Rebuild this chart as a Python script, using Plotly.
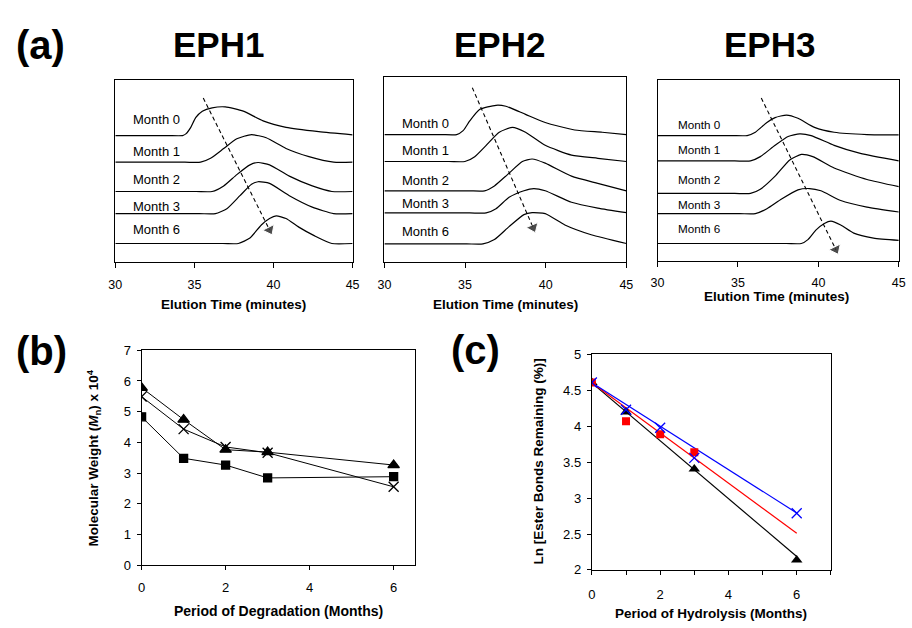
import math
import plotly.graph_objects as go

W, H = 912, 628
FONT = "Liberation Sans, Arial, sans-serif"

# ---------------- (a) GPC chromatograms (signal in arbitrary units) ----------------
months = ["Month 0", "Month 1", "Month 2", "Month 3", "Month 6"]
panel_titles = ["EPH1", "EPH2", "EPH3"]

eph1_time = [
    [30, 33.3, 34.25, 34.46, 34.77, 35.08, 35.50, 36.12, 36.95, 38.09, 39.34, 40.79, 42.86, 45],
    [30, 34.4, 35.39, 36.02, 36.85, 37.68, 38.61, 39.54, 40.79, 42.24, 43.80, 45],
    [30, 35.1, 36.12, 36.85, 37.68, 38.51, 39.02, 39.75, 41.00, 42.45, 43.69, 45],
    [30, 35.3, 36.33, 37.05, 37.88, 38.61, 39.02, 39.75, 41.00, 42.45, 43.80, 45],
    [30, 36.8, 37.78, 38.51, 39.23, 39.75, 40.17, 40.79, 41.60, 42.60, 43.69, 45],
]
eph1_signal = [
    [129.3, 129.3, 129.3, 131, 137.7, 147.7, 154.3, 157.7, 158.7, 154.3, 144.3, 137.7, 133.3, 130],
    [102, 102, 102, 106, 116, 126, 130.3, 127, 116, 107.7, 102, 102],
    [72, 72, 72, 77.7, 89.3, 99.3, 101.7, 99.3, 87.7, 77.7, 72, 72],
    [49.3, 49.3, 49.3, 54.3, 67.7, 79.3, 82, 80.3, 67.7, 56, 49.3, 49.3],
    [18.7, 18.7, 18.7, 24.3, 37.7, 44.3, 47, 44.3, 35.5, 26.5, 18.7, 18.7],
]

eph2_time = [
    [30, 33.5, 34.48, 34.88, 35.29, 35.90, 36.92, 37.53, 38.75, 39.97, 41.80, 43.50, 45],
    [30, 34.0, 34.99, 35.60, 36.31, 37.12, 37.94, 38.75, 39.97, 41.60, 43.23, 45],
    [30, 35.2, 36.21, 36.82, 37.63, 38.55, 39.16, 39.97, 41.60, 43.23, 45],
    [30, 35.3, 36.31, 36.92, 37.73, 38.65, 39.26, 39.97, 41.60, 43.23, 45],
    [30, 35.1, 36.11, 36.82, 37.73, 38.65, 39.16, 39.97, 41.19, 42.82, 45],
]
eph2_signal = [
    [130.3, 130.3, 130.3, 134.3, 144.3, 156, 160.3, 159.3, 151, 142.7, 135, 132.7, 130.3],
    [102.7, 102.7, 102.7, 107.7, 119.3, 132.7, 137.7, 132.7, 119.3, 109.3, 106, 102.7],
    [72.7, 72.7, 72.7, 77.7, 89.3, 102.7, 105.3, 101, 87.7, 80.3, 72.7],
    [50, 50, 50, 54.3, 66, 72.7, 75, 72.7, 61, 55, 50.3],
    [18.3, 18.3, 18.3, 22.7, 36, 48.3, 50.3, 49.3, 37.7, 27.7, 18.7],
]

eph3_time = [
    [30, 34.6, 35.57, 36.08, 36.80, 37.31, 38.02, 38.73, 39.76, 40.98, 43.02, 45],
    [30, 34.8, 35.78, 36.39, 37.31, 38.12, 38.84, 39.55, 40.98, 42.61, 45],
    [30, 34.8, 35.78, 36.39, 37.31, 38.22, 38.94, 39.65, 40.98, 43.02, 45],
    [30, 35.1, 36.08, 36.80, 37.71, 38.73, 39.45, 40.16, 41.39, 43.02, 45],
    [30, 38.0, 38.94, 39.35, 39.86, 40.37, 40.78, 41.39, 42.20, 43.43, 45],
]
eph3_signal = [
    [128.3, 128.3, 128.3, 131.7, 141.7, 146.7, 149.3, 146, 136.7, 131.7, 129.3, 129],
    [102.3, 102.3, 102.3, 106.7, 118.3, 127.3, 130, 128.3, 118.3, 110, 102.3],
    [69, 69, 69, 73.3, 86.7, 103.3, 109, 106.7, 95, 83.3, 76],
    [48.3, 48.3, 48.3, 53.3, 63.3, 72.7, 74, 71.7, 61.7, 55, 50],
    [17.7, 17.7, 17.7, 21.7, 31.7, 38.3, 40.7, 36.7, 28.3, 23.3, 21],
]

# dashed "shift" arrows (start, end) per panel
arrow_time = [[35.56, 39.75], [35.45, 39.22], [36.45, 41.08]]
arrow_signal = [[167.7, 32.7], [178.3, 35.0], [166.7, 11.7]]

# month label anchors per panel
label_time = [30.98, 30.98, 31.14]
label_signal = [
    [146, 112.7, 84.3, 57, 32.7],
    [141.7, 113.7, 83.7, 59.3, 31],
    [139.3, 114, 83.3, 57.3, 33.3],
]
signal_max = [186, 189, 185]
elution_ticks = [30, 35, 40, 45]

# ---------------- (b) molecular weight ----------------
deg_months = [0, 1, 2, 3, 6]
mn_triangle = [5.78, 4.74, 3.76, 3.68, 3.26]
mn_square = [4.83, 3.48, 3.26, 2.84, 2.88]
mn_cross = [5.49, 4.43, 3.85, 3.66, 2.55]

# ---------------- (c) ln ester bonds remaining ----------------
hyd_tri_t = [0, 1, 3, 6]
hyd_tri_v = [4.61, 4.20, 3.405, 2.14]
hyd_sq_t = [0, 1, 2, 3]
hyd_sq_v = [4.61, 4.07, 3.89, 3.64]
hyd_x_t = [0, 1, 2, 3, 6]
hyd_x_v = [4.61, 4.23, 3.98, 3.56, 2.79]
trend_intercept = math.log(100)
trend_slopes = [-0.403, -0.349, -0.302]   # black, red, blue
trend_end = 6

# ---------------- layout geometry (pixels) ----------------
def xd(a, b):
    return [a / W, b / W]

def yd(top, bottom):
    return [1 - bottom / H, 1 - top / H]

fig = go.Figure()

a_frames = [
    (110, 351, 75, 261),
    (383.3, 629, 72, 261),
    (660.7, 905.7, 75, 260),
]
panels_t = [eph1_time, eph2_time, eph3_time]
panels_s = [eph1_signal, eph2_signal, eph3_signal]
label_sizes = [13, 13, 11.7]

for p in range(3):
    xa = "x" if p == 0 else f"x{p+1}"
    ya = "y" if p == 0 else f"y{p+1}"
    for t, s in zip(panels_t[p], panels_s[p]):
        fig.add_trace(go.Scatter(x=t, y=s, mode="lines", xaxis=xa, yaxis=ya,
                                 line=dict(color="black", width=1.2, shape="spline", smoothing=0.55),
                                 showlegend=False, hoverinfo="skip"))
    fig.add_trace(go.Scatter(x=arrow_time[p], y=arrow_signal[p], mode="lines+markers",
                             xaxis=xa, yaxis=ya,
                             line=dict(color="black", width=1.1, dash="4px,3px"),
                             marker=dict(symbol="triangle-up", size=[0, 11], color="black",
                                         angleref="previous"),
                             showlegend=False, hoverinfo="skip"))

# (b)
for vals, sym, size in [(mn_square, "square", 8), (mn_cross, "x-thin-open", 10), (mn_triangle, "triangle-up", 10)]:
    fig.add_trace(go.Scatter(x=deg_months, y=vals, mode="lines+markers", xaxis="x4", yaxis="y4",
                             line=dict(color="black", width=1),
                             marker=dict(symbol=sym, size=size, color="black",
                                         line=dict(color="black", width=1.3)),
                             showlegend=False, hoverinfo="skip"))

# (c) trend lines
trend_colors = ["black", "#ff0000", "#0000ff"]
for slope, col in zip(trend_slopes, trend_colors):
    fig.add_trace(go.Scatter(x=[0, trend_end], y=[trend_intercept, trend_intercept + slope * trend_end],
                             mode="lines", xaxis="x5", yaxis="y5",
                             line=dict(color=col, width=1.2), showlegend=False, hoverinfo="skip"))
fig.add_trace(go.Scatter(x=hyd_tri_t, y=hyd_tri_v, mode="markers", xaxis="x5", yaxis="y5",
                         marker=dict(symbol="triangle-up", size=10, color="black"),
                         showlegend=False, hoverinfo="skip"))
fig.add_trace(go.Scatter(x=hyd_sq_t, y=hyd_sq_v, mode="markers", xaxis="x5", yaxis="y5",
                         marker=dict(symbol="square", size=8, color="#ff0000"),
                         showlegend=False, hoverinfo="skip"))
fig.add_trace(go.Scatter(x=hyd_x_t, y=hyd_x_v, mode="markers", xaxis="x5", yaxis="y5",
                         marker=dict(symbol="x-thin-open", size=10, color="#0000ff",
                                     line=dict(color="#0000ff", width=1.3)),
                         showlegend=False, hoverinfo="skip"))

tickfont_a = dict(family=FONT, size=12.5, color="black")
tickfont_bc = dict(family=FONT, size=13, color="black")

layout = dict(
    width=W, height=H, autosize=False,
    margin=dict(l=0, r=0, t=0, b=0),
    paper_bgcolor="white", plot_bgcolor="white",
    font=dict(family=FONT, color="black"),
    showlegend=False,
)

for p in range(3):
    l, r, top, bot = a_frames[p]
    xk = "xaxis" if p == 0 else f"xaxis{p+1}"
    yk = "yaxis" if p == 0 else f"yaxis{p+1}"
    yanchor = "y" if p == 0 else f"y{p+1}"
    xanchor = "x" if p == 0 else f"x{p+1}"
    layout[xk] = dict(domain=xd(l, r), range=[30, 45], anchor=yanchor,
                      tickvals=elution_ticks, ticks="outside", ticklen=5, tickwidth=1,
                      tickcolor="black", showline=True, mirror=True, linecolor="black",
                      linewidth=1.3, showgrid=False, zeroline=False, tickfont=tickfont_a,
                      ticklabelstandoff=6 if p < 2 else 5)
    layout[yk] = dict(domain=yd(top, bot), range=[0, signal_max[p]], anchor=xanchor,
                      showticklabels=False, ticks="", showline=True, mirror=True,
                      linecolor="black", linewidth=1.3, showgrid=False, zeroline=False)

layout["xaxis4"] = dict(domain=xd(136.7, 414), range=[0, 6.5], anchor="y4",
                        tickvals=[0, 2, 4, 6], ticks="outside", ticklen=4, tickcolor="black",
                        showline=True, mirror=True, linecolor="black", linewidth=1.2,
                        showgrid=False, zeroline=False, tickfont=tickfont_bc, ticklabelstandoff=6)
layout["yaxis4"] = dict(domain=yd(351.7, 571.7), range=[0, 7], anchor="x4", dtick=1,
                        ticks="outside", ticklen=4, tickcolor="black",
                        showline=True, mirror=True, linecolor="black", linewidth=1.2,
                        showgrid=False, zeroline=False, tickfont=tickfont_bc, ticklabelstandoff=3)
layout["xaxis5"] = dict(domain=xd(594, 836.7), range=[0, 7], anchor="y5",
                        tickvals=[0, 2, 4, 6],
                        ticks="outside", ticklen=4, tickcolor="black",
                        minor=dict(dtick=1, tick0=0, ticks="outside", ticklen=4, tickcolor="black"),
                        showline=True, mirror=True, linecolor="black", linewidth=1.2,
                        showgrid=False, zeroline=False, tickfont=tickfont_bc, ticklabelstandoff=8)
layout["yaxis5"] = dict(domain=yd(356, 576.7), range=[2, 5], anchor="x5",
                        tickvals=[2, 2.5, 3, 3.5, 4, 4.5, 5],
                        ticktext=["2", "2.5", "3", "3.5", "4", "4.5", "5"],
                        ticks="outside", ticklen=4, tickcolor="black",
                        showline=True, mirror=True, linecolor="black", linewidth=1.2,
                        showgrid=False, zeroline=False, tickfont=tickfont_bc, ticklabelstandoff=3)

ann = []

def pa(text, px, py, size, angle=0, xanchor="center"):
    ann.append(dict(text=text, x=px / W, y=1 - py / H, xref="paper", yref="paper",
                    showarrow=False, xanchor=xanchor, yanchor="middle", textangle=angle,
                    font=dict(family=FONT, size=size, color="black")))

pa("<b>(a)</b>", 34, 39, 40)
pa("<b>(b)</b>", 35, 352, 40)
pa("<b>(c)</b>", 476, 351, 40)
for name, cx in zip(panel_titles, [215, 500, 774]):
    pa(f"<b>{name}</b>", cx, 38, 35)
for cx, cy in [(230, 305), (506, 305), (781, 297)]:
    pa("<b>Elution Time (minutes)</b>", cx, cy, 13.5)
pa("<b>Period of Degradation (Months)</b>", 276, 619, 14)
pa("<b>Period of Hydrolysis (Months)</b>", 715, 621, 13.5)
pa("<b>Molecular Weight (<i>M</i><sub>n</sub>) x 10<sup>4</sup></b>", 88, 462, 13.5, angle=-90)
pa("<b>Ln [Ester Bonds Remaining (%)]</b>", 540, 466, 13.5, angle=-90)

for p in range(3):
    xa = "x" if p == 0 else f"x{p+1}"
    ya = "y" if p == 0 else f"y{p+1}"
    for m, sy in zip(months, label_signal[p]):
        ann.append(dict(text=m, x=label_time[p], y=sy, xref=xa, yref=ya, showarrow=False,
                        xanchor="left", yanchor="middle",
                        font=dict(family=FONT, size=label_sizes[p], color="black")))

layout["annotations"] = ann
fig.update_layout(**layout)
fig.write_html("out.html",
               config={"displayModeBar": False},
               post_script="document.body.style.margin='0px';document.body.style.padding='0px';document.body.style.overflow='hidden';")
